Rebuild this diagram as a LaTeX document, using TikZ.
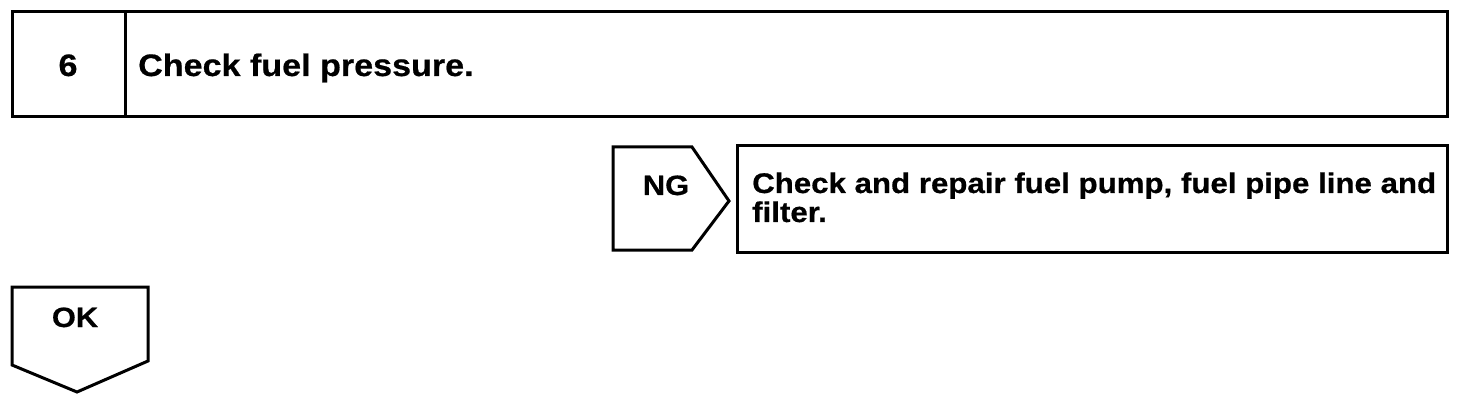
\documentclass[tikz,border=0pt]{standalone}
\usepackage{fontspec}
\setmainfont{Liberation Sans}[FakeStretch=1.1,BoldFeatures={FakeBold=0.6}]
\begin{document}
\begin{tikzpicture}[x=1pt,y=-1pt,
  box/.style={draw=black,line width=3pt,line join=miter},
  lbl/.style={inner sep=0pt,anchor=base west,font=\fontsize{28.4}{29}\selectfont\bfseries},
  big/.style={font=\fontsize{31}{32}\selectfont\bfseries},
  clbl/.style={inner sep=0pt,anchor=base,font=\fontsize{28}{29}\selectfont\bfseries}]
\useasboundingbox (0,0) rectangle (1472,406);
% top box
\draw[box] (12,12) rectangle (1447,117);
\draw[box] (125,12) -- (125,117);
\node[clbl,big] (six) at (68,76) {6};
\node[lbl,big] (t1) at (138,76) {Check fuel pressure.};
% NG pentagon
\draw[box] (613,147) -- (692,147) -- (729,201) -- (692,250) -- (613,250) -- cycle;
\node[clbl] (ng) at (666,195) {NG};
% right box
\draw[box] (737,146) rectangle (1447,252);
\node[lbl] (t2) at (752,193) {Check and repair fuel pump, fuel pipe line and};
\node[lbl] (t3) at (752,222) {filter.};
% OK box
\draw[box] (12,287) -- (148,287) -- (148,361) -- (77,392) -- (12,365) -- cycle;
\node[clbl] (ok) at (75,327) {OK};
\end{tikzpicture}
\end{document}
